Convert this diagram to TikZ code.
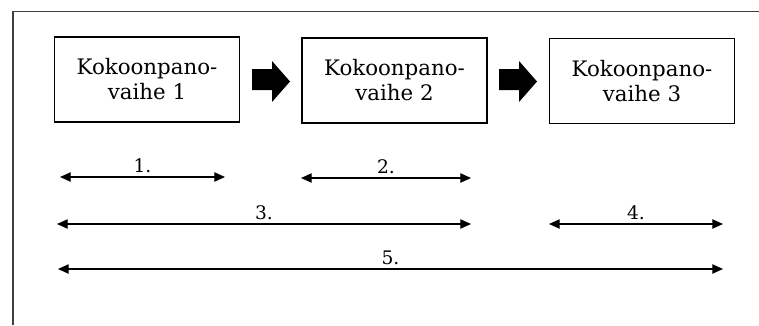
\documentclass[tikz,border=0pt]{standalone}
\usepackage{fontspec}
\setmainfont{DejaVu Serif}
\usetikzlibrary{arrows.meta, calc}
\definecolor{frm}{HTML}{404040}
\tikzset{%
    frame/.style={line width = 1.1pt, draw=frm},
    stage/.style={rectangle, draw, line width = 1.2pt, minimum width=138.75pt, minimum height=63.75pt,
        align=center, font=\fontsize{16}{18.75}\selectfont, inner sep=0pt},
    blk/.style={fill=black},
    span/.style={line width = 0.9pt, {Triangle[length=8pt,width=7pt]}-{Triangle[length=8pt,width=7pt]}},
    lbl/.style={font=\fontsize{14}{16}\selectfont, inner sep=1pt, above=2pt},
}

\begin{document}
\begin{tikzpicture}[x=0.75pt, y=-0.75pt]
    \useasboundingbox (0,0) rectangle (759,325);
    \draw [frame] (759,11.5) -- (13,11.5) -- (13,325);
    % stages
    \node[stage] (s1) at (147,79.5) {Kokoonpano-\\vaihe 1};
    \node[stage] (s2) at (394.5,80.5) {Kokoonpano-\\vaihe 2};
    \node[stage] (s3) at (642,81) {Kokoonpano-\\vaihe 3};
    % block arrows between stages
    \fill [blk] (252,69) -- (272,69) -- (272,61) -- (290,81.5) -- (272,102) -- (272,90) -- (252,90) -- cycle;
    \fill [blk] (499,69) -- (519,69) -- (519,61) -- (537,81.5) -- (519,102) -- (519,90) -- (499,90) -- cycle;
    % spans
    \coordinate (a1) at (60,177);  \coordinate (b1) at (225,177);
    \coordinate (a2) at (301,178); \coordinate (b2) at (471,178);
    \coordinate (a3) at (57,224);  \coordinate (b3) at (471,224);
    \coordinate (a4) at (549,224); \coordinate (b4) at (723,224);
    \coordinate (a5) at (58,269);  \coordinate (b5) at (723,269);
    \draw [span] (a1) -- node[lbl] (l1) {1.} (b1);
    \draw [span] (a2) -- node[lbl] (l2) {2.} (b2);
    \draw [span] (a3) -- node[lbl] (l3) {3.} (b3);
    \draw [span] (a4) -- node[lbl] (l4) {4.} (b4);
    \draw [span] (a5) -- node[lbl] (l5) {5.} (b5);
\end{tikzpicture}
\end{document}
